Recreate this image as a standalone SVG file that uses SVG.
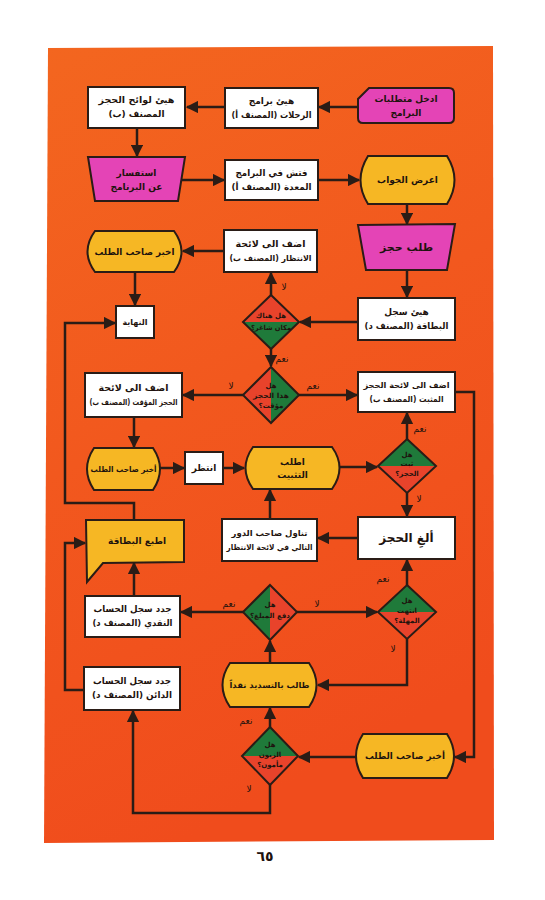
<svg xmlns="http://www.w3.org/2000/svg" width="545" height="900" viewBox="0 0 545 900">
<defs>
<linearGradient id="bg" x1="0" y1="0" x2="0.3" y2="1">
<stop offset="0" stop-color="#f3661f"/>
<stop offset="0.5" stop-color="#f2581e"/>
<stop offset="1" stop-color="#f04c1c"/>
</linearGradient>
<marker id="ah" viewBox="0 0 10 10" refX="9" refY="5" markerWidth="5" markerHeight="5" orient="auto" markerUnits="strokeWidth">
<path d="M0,0 L10,5 L0,10 Z" fill="#2a1c16"/>
</marker>
<style>
.w{fill:#ffffff;stroke:#2a1c16;stroke-width:2}
.y{fill:#f6b724;stroke:#2a1c16;stroke-width:2}
.m{fill:#e444b6;stroke:#2a1c16;stroke-width:2}
.r{fill:#e8432b}
.g{fill:#1f7a3a}
.do{fill:none;stroke:#2a1c16;stroke-width:2}
.c{fill:none;stroke:#2a1c16;stroke-width:2.5;marker-end:url(#ah)}
text{font-family:"DejaVu Sans","Noto Sans",sans-serif;font-weight:bold;fill:#1e130e;text-anchor:middle}
.t{font-size:9px}
.ts{font-size:8px}
.tl{font-size:12px}
.td{font-size:7px}
.lb{font-size:9px;font-weight:normal}
</style>
</defs>
<rect width="545" height="900" fill="#ffffff"/>
<polygon points="48,48 493,46 494,840 44,843" fill="url(#bg)"/>

<g id="connectors">
<path class="c" d="M358,107 L319,107"/>
<path class="c" d="M225,107 L187,107"/>
<path class="c" d="M137,128 L137,156"/>
<path class="c" d="M182,180 L224,180"/>
<path class="c" d="M318,180 L359,180"/>
<path class="c" d="M407,204 L407,224"/>
<path class="c" d="M407,270 L407,297"/>
<path class="c" d="M358,322 L300,322"/>
<path class="c" d="M271,295 L271,273"/>
<path class="c" d="M224,251 L183,251"/>
<path class="c" d="M135,272 L135,305"/>
<path class="c" d="M271,349 L271,366"/>
<path class="c" d="M243,395 L183,395"/>
<path class="c" d="M299,395 L357,395"/>
<path class="c" d="M455,392 L474,392 L474,757 L455,757"/>
<path class="c" d="M134,417 L134,447"/>
<path class="c" d="M160,468 L184,468"/>
<path class="c" d="M223,468 L244,468"/>
<path class="c" d="M340,467 L377,467"/>
<path class="c" d="M407,439 L407,413"/>
<path class="c" d="M407,493 L407,516"/>
<path class="c" d="M358,538 L318,538"/>
<path class="c" d="M270,519 L270,490"/>
<path class="c" d="M407,585 L407,560"/>
<path class="c" d="M297,612 L377,612"/>
<path class="c" d="M243,612 L181,612"/>
<path class="c" d="M134,596 L134,563"/>
<path class="c" d="M407,639 L407,685 L318,685"/>
<path class="c" d="M270,663 L270,641"/>
<path class="c" d="M356,757 L299,757"/>
<path class="c" d="M270,727 L270,708"/>
<path class="c" d="M270,785 L270,813 L133,813 L133,711"/>
<path class="c" d="M84,690 L65,690 L65,543 L85,543"/>
<path class="c" d="M134,520 L134,503 L65,503 L65,323 L115,323"/>
<text class="lb" x="284" y="290">لا</text>
<text class="lb" x="282" y="362">نعم</text>
<text class="lb" x="231" y="389">لا</text>
<text class="lb" x="313" y="389">نعم</text>
<text class="lb" x="420" y="432">نعم</text>
<text class="lb" x="419" y="502">لا</text>
<text class="lb" x="383" y="582">نعم</text>
<text class="lb" x="393" y="652">لا</text>
<text class="lb" x="317" y="607">لا</text>
<text class="lb" x="229" y="607">نعم</text>
<text class="lb" x="246" y="724">نعم</text>
<text class="lb" x="249" y="792">لا</text>
</g>

<g id="n1">
<path class="m" d="M369,88 L449,88 Q454,88 454,93 L454,118 Q454,123 449,123 L363,123 Q358,123 358,118 L358,99 Z"/>
<text class="t" x="406" y="102">ادخل متطلبات</text>
<text class="t" x="406" y="116">البرامج</text>
</g>
<g id="n2">
<rect class="w" x="225" y="88" width="93" height="40"/>
<text class="t" x="271.5" y="104">هيئ برامج</text>
<text class="t" x="271.5" y="118" textLength="80" lengthAdjust="spacingAndGlyphs">الرحلات (المصنف أ)</text>
</g>
<g id="n3">
<rect class="w" x="88" y="87" width="97" height="41"/>
<text class="t" x="136.5" y="103" textLength="76" lengthAdjust="spacingAndGlyphs">هيئ لوائح الحجز</text>
<text class="t" x="136.5" y="117">المصنف (ب)</text>
</g>
<g id="n4">
<path class="m" d="M88,157 L185,157 L178,201 L95,201 Z"/>
<text class="t" x="136.5" y="176">استفسار</text>
<text class="t" x="136.5" y="190">عن البرنامج</text>
</g>
<g id="n5">
<rect class="w" x="225" y="160" width="93" height="40"/>
<text class="t" x="271.5" y="176" textLength="72" lengthAdjust="spacingAndGlyphs">فتش في البرامج</text>
<text class="t" x="271.5" y="190" textLength="80" lengthAdjust="spacingAndGlyphs">المعدة (المصنف أ)</text>
</g>
<g id="n6">
<path class="y" d="M368,156 L447,156 Q462,180 447,204 L368,204 Q353,180 368,156 Z"/>
<text class="t" x="407.5" y="183">اعرض الجواب</text>
</g>
<g id="n7">
<path class="m" d="M358,225 L455,224 L447,270 L366,270 Z"/>
<text class="t" x="406.5" y="251" style="font-size:11px">طلب حجز</text>
</g>
<g id="n8">
<rect class="w" x="224" y="230" width="93" height="42"/>
<text class="t" x="270.5" y="247" textLength="70" lengthAdjust="spacingAndGlyphs">اضف الى لائحة</text>
<text class="ts" x="270.5" y="261" textLength="82" lengthAdjust="spacingAndGlyphs">الانتظار (المصنف ب)</text>
</g>
<g id="n9">
<path class="y" d="M95,231 L174,231 Q189,251.5 174,272 L95,272 Q80,251.5 95,231 Z"/>
<text class="t" x="134.5" y="255" textLength="80" lengthAdjust="spacingAndGlyphs">اخبر صاحب الطلب</text>
</g>
<g id="n10">
<rect class="w" x="358" y="298" width="97" height="42"/>
<text class="t" x="406.5" y="315">هيئ سجل</text>
<text class="t" x="406.5" y="329" textLength="84" lengthAdjust="spacingAndGlyphs">البطاقة (المصنف د)</text>
</g>
<g id="n11">
<rect class="w" x="116" y="306" width="38" height="32"/>
<text class="ts" x="135" y="325">النهاية</text>
</g>
<g id="d1">
<polygon class="r" points="243,322 271,295 299,322"/>
<polygon class="g" points="243,322 299,322 271,349"/>
<polygon class="do" points="271,295 299,322 271,349 243,322"/>
<text class="td" x="271" y="318">هل هناك</text>
<text class="td" x="271" y="330" textLength="40" lengthAdjust="spacingAndGlyphs">مكان شاغر؟</text>
</g>
<g id="d2">
<polygon class="r" points="271,367 243,395 271,423"/>
<polygon class="g" points="271,367 299,395 271,423"/>
<polygon class="do" points="271,367 299,395 271,423 243,395"/>
<text class="td" x="271" y="388">هل</text>
<text class="td" x="271" y="398" textLength="36" lengthAdjust="spacingAndGlyphs">هذا الحجز</text>
<text class="td" x="271" y="408">مؤقت؟</text>
</g>
<g id="n12">
<rect class="w" x="85" y="373" width="97" height="44"/>
<text class="t" x="133.5" y="391" textLength="70" lengthAdjust="spacingAndGlyphs">اضف الى لائحة</text>
<text class="ts" x="133.5" y="405" textLength="88" lengthAdjust="spacingAndGlyphs">الحجز المؤقت (المصنف ب)</text>
</g>
<g id="n13">
<rect class="w" x="358" y="372" width="97" height="40"/>
<text class="ts" x="406.5" y="388" textLength="86" lengthAdjust="spacingAndGlyphs">اضف الى لائحة الحجز</text>
<text class="ts" x="406.5" y="402" textLength="74" lengthAdjust="spacingAndGlyphs">المثبت (المصنف ب)</text>
</g>
<g id="n14">
<path class="y" d="M94,448 L153,448 Q167,469 153,490 L94,490 Q80,469 94,448 Z"/>
<text class="ts" x="123.5" y="472" textLength="66" lengthAdjust="spacingAndGlyphs">أخبر صاحب الطلب</text>
</g>
<g id="n15">
<rect class="w" x="185" y="452" width="38" height="32"/>
<text class="t" x="204" y="471">انتظر</text>
</g>
<g id="n16">
<path class="y" d="M253,447 L332,447 Q347,468 332,489 L253,489 Q238,468 253,447 Z"/>
<text class="t" x="292.5" y="465">اطلب</text>
<text class="t" x="292.5" y="478">التثبيت</text>
</g>
<g id="d3">
<polygon class="g" points="378,466 407,439 436,466"/>
<polygon class="r" points="378,466 436,466 407,493"/>
<polygon class="do" points="407,439 436,466 407,493 378,466"/>
<text class="td" x="407" y="457">هل</text>
<text class="td" x="407" y="466">ثبت</text>
<text class="td" x="407" y="476">الحجز؟</text>
</g>
<g id="n17">
<rect class="w" x="358" y="517" width="97" height="42"/>
<text class="tl" x="406.5" y="542">ألغِ الحجز</text>
</g>
<g id="n18">
<rect class="w" x="222" y="519" width="95" height="42"/>
<text class="ts" x="269.5" y="536" textLength="76" lengthAdjust="spacingAndGlyphs">تناول صاحب الدور</text>
<text class="ts" x="269.5" y="550" textLength="86" lengthAdjust="spacingAndGlyphs">التالي في لائحة الانتظار</text>
</g>
<g id="n19">
<path class="y" d="M86,520 L184,520 L184,562 L103,563 L87,582 Z"/>
<text class="t" x="137" y="544">اطبع البطاقة</text>
</g>
<g id="d4">
<polygon class="g" points="378,612 407,585 436,612"/>
<polygon class="r" points="378,612 436,612 407,639"/>
<polygon class="do" points="407,585 436,612 407,639 378,612"/>
<text class="td" x="407" y="603">هل</text>
<text class="td" x="407" y="613">انتهت</text>
<text class="td" x="407" y="623">المهلة؟</text>
</g>
<g id="d5">
<polygon class="g" points="270,585 243,612 270,640"/>
<polygon class="r" points="270,585 297,612 270,640"/>
<polygon class="do" points="270,585 297,612 270,640 243,612"/>
<text class="td" x="270" y="607">هل</text>
<text class="td" x="270" y="618" textLength="40" lengthAdjust="spacingAndGlyphs">دفع المبلغ؟</text>
</g>
<g id="n20">
<rect class="w" x="85" y="596" width="95" height="41"/>
<text class="t" x="132.5" y="612" textLength="78" lengthAdjust="spacingAndGlyphs">جدد سجل الحساب</text>
<text class="t" x="132.5" y="626" textLength="80" lengthAdjust="spacingAndGlyphs">النقدي (المصنف د)</text>
</g>
<g id="n21">
<path class="y" d="M230,663 L309,663 Q324,685 309,707 L230,707 Q215,685 230,663 Z"/>
<text class="ts" x="269.5" y="688" textLength="80" lengthAdjust="spacingAndGlyphs">طالب بالتسديد نقداً</text>
</g>
<g id="n22">
<rect class="w" x="84" y="667" width="96" height="43"/>
<text class="t" x="132" y="684" textLength="78" lengthAdjust="spacingAndGlyphs">جدد سجل الحساب</text>
<text class="t" x="132" y="698" textLength="80" lengthAdjust="spacingAndGlyphs">الدائن (المصنف د)</text>
</g>
<g id="d6">
<polygon class="g" points="242,756 270,727 298,756"/>
<polygon class="r" points="242,756 298,756 270,785"/>
<polygon class="do" points="270,727 298,756 270,785 242,756"/>
<text class="td" x="270" y="747">هل</text>
<text class="td" x="270" y="757">الزبون</text>
<text class="td" x="270" y="767">مأمون؟</text>
</g>
<g id="n23">
<path class="y" d="M363,734 L447,734 Q461,756 447,778 L363,778 Q349,756 363,734 Z"/>
<text class="t" x="405" y="759" textLength="80" lengthAdjust="spacingAndGlyphs">أخبر صاحب الطلب</text>
</g>
<text x="265" y="861" style="font-size:14px">٦٥</text>
</svg>
